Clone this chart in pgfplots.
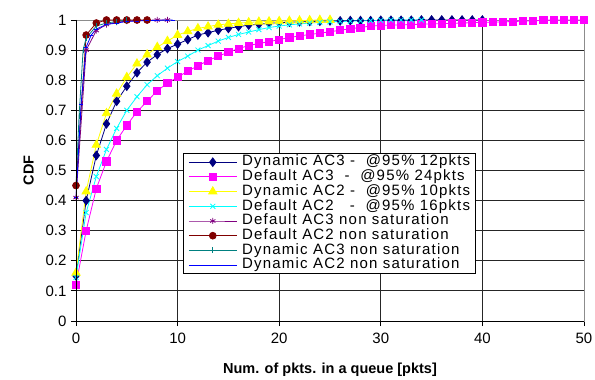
\documentclass[border=0pt]{standalone}
\usepackage{pgfplots}
\pgfplotsset{compat=1.18}
\usepackage{fontspec}
\setmainfont{Liberation Sans}
\newfontfamily\legfont[LetterSpace=8]{Liberation Sans}
\definecolor{cnavy}{RGB}{0,0,128}
\definecolor{cmag}{RGB}{255,0,255}
\definecolor{cyel}{RGB}{255,255,0}
\definecolor{ccyan}{RGB}{0,255,255}
\definecolor{cpurp}{RGB}{128,0,128}
\definecolor{cmaroon}{RGB}{128,0,0}
\definecolor{cteal}{RGB}{0,128,128}
\definecolor{cblue}{RGB}{0,0,255}
\begin{document}
\begin{tikzpicture}
\path[use as bounding box] (-76pt,-59pt) rectangle (519pt,321pt);
\begin{axis}[
  scale only axis, width=508pt, height=301pt,
  xmin=0, xmax=50, ymin=0, ymax=1,
  xtick={0,10,...,50}, ytick={0,0.1,...,1},
  yticklabel style={/pgf/number format/fixed,/pgf/number format/precision=1, xshift=-1pt},
  xticklabel style={yshift=-3pt},
  /pgf/number format/assume math mode=true,
  ticklabel style={font=\fontsize{15}{16}\selectfont},
  xmajorgrids, ymajorgrids,
  major grid style={black!85, line width=0.9pt},
  axis line style={black!45, line width=0.9pt},
  tick align=outside, major tick length=5pt,
  tick style={black, line width=0.9pt},
  xtick pos=bottom, ytick pos=left,
  xlabel={\textbf{Num. of pkts. in a queue [pkts]}},
  ylabel={\textbf{CDF}},
  label style={font=\fontsize{14.5}{16}\selectfont},
  xlabel style={yshift=-13pt},
  ylabel style={yshift=5pt},
  legend style={at={(0.2106,0.558)}, anchor=north west, draw=black, line width=0.8pt,
    fill=white, font=\legfont\fontsize{15}{15}\selectfont, row sep=1.2pt, column sep=5pt,
    inner xsep=5pt, inner ysep=2pt,
    nodes={inner sep=0pt, text height=10.5pt, text depth=3pt},
    cells={anchor=west}},
  legend image code/.code={\draw[mark repeat=2,mark phase=2,#1] plot coordinates {(0pt,0pt) (24pt,0pt) (48pt,0pt)};},
  every axis plot/.append style={line width=0.8pt},
]
% Dynamic AC3 saturation
\addplot[cnavy, mark=diamond*, mark size=4.3pt, mark options={solid}] coordinates {
(0,0.15)(1,0.40)(2,0.55)(3,0.655)(4,0.73)(5,0.78)(6,0.825)(7,0.86)(8,0.885)(9,0.905)
(10,0.92)(11,0.935)(12,0.95)(13,0.958)(14,0.966)(15,0.972)(16,0.978)(17,0.983)(18,0.986)(19,0.989)
(20,0.991)(21,0.993)(22,0.994)(23,0.995)(24,0.996)(25,0.997)(26,0.997)(27,0.998)(28,0.998)(29,0.998)
(30,0.999)(31,0.999)(32,0.999)(33,0.999)(34,1)(35,1)(36,1)(37,1)(38,1)(39,1)(40,1)};
\addlegendentry{Dynamic AC3 -\ \ @95\% 12pkts}
% Default AC3 saturation
\addplot[cmag, mark=square*, mark size=3.6pt] coordinates {
(0,0.12)(1,0.30)(2,0.44)(3,0.53)(4,0.60)(5,0.65)(6,0.695)(7,0.73)(8,0.765)(9,0.79)
(10,0.81)(11,0.83)(12,0.848)(13,0.865)(14,0.88)(15,0.893)(16,0.905)(17,0.915)(18,0.922)(19,0.928)
(20,0.935)(21,0.942)(22,0.947)(23,0.952)(24,0.956)(25,0.961)(26,0.966)(27,0.971)(28,0.975)(29,0.98)
(30,0.982)(31,0.983)(32,0.984)(33,0.985)(34,0.986)(35,0.987)(36,0.988)(37,0.989)(38,0.99)(39,0.991)
(40,0.992)(41,0.993)(42,0.994)(43,0.995)(44,0.996)(45,0.997)(46,0.999)(47,1)(48,1)(49,1)(50,1)};
\addlegendentry{Default AC3\ \ -\ \ @95\% 24pkts}
% Dynamic AC2 saturation
\addplot[cyel, mark=triangle*, mark size=4.8pt] coordinates {
(0,0.16)(1,0.43)(2,0.585)(3,0.69)(4,0.755)(5,0.81)(6,0.855)(7,0.885)(8,0.91)(9,0.93)
(10,0.95)(11,0.962)(12,0.972)(13,0.978)(14,0.984)(15,0.987)(16,0.99)(17,0.992)(18,0.994)(19,0.995)
(20,0.996)(21,0.997)(22,0.998)(23,0.999)(24,1)(25,1)};
\addlegendentry{Dynamic AC2 -\ \ @95\% 10pkts}
% Default AC2 saturation
\addplot[ccyan, mark=x, mark size=3.5pt] coordinates {
(0,0.145)(1,0.36)(2,0.48)(3,0.57)(4,0.64)(5,0.70)(6,0.745)(7,0.785)(8,0.815)(9,0.84)
(10,0.862)(11,0.88)(12,0.9)(13,0.915)(14,0.93)(15,0.942)(16,0.952)(17,0.96)(18,0.968)(19,0.975)
(20,0.98)(21,0.984)(22,0.987)(23,0.99)(24,0.992)(25,0.994)(26,0.995)(27,0.996)(28,0.997)(29,0.998)
(30,0.999)(31,1)(32,1)(33,1)(34,1)};
\addlegendentry{Default AC2\ \ \ -\ \ @95\% 16pkts}
% Default AC3 non saturation
\addplot[cpurp, mark=asterisk, mark size=3pt] coordinates {
(0,0.41)(1,0.90)(2,0.965)(3,0.985)(4,0.993)(5,0.996)(6,0.998)(7,0.999)(8,1)(9,1)};
\addlegendentry{Default AC3 non saturation}
% Default AC2 non saturation
\addplot[cmaroon, mark=*, mark size=3.4pt] coordinates {
(0,0.45)(1,0.95)(2,0.99)(3,1)(4,1)(5,1)(6,1)(7,1)};
\addlegendentry{Default AC2 non saturation}
% Dynamic AC3 non saturation
\addplot[cteal, mark=|, mark size=3pt] coordinates {
(0,0.45)(0.3,0.68)(0.7,0.9)(1,0.94)(2,0.98)(3,0.99)(4,0.995)(5,1)};
\addlegendentry{Dynamic AC3 non saturation}
% Dynamic AC2 non saturation
\addplot[cblue, mark=-, mark size=2pt] coordinates {
(0,0.41)(0.5,0.72)(1,0.91)(1.5,0.95)(2,0.97)(3,0.985)(4,0.99)(5,0.995)(6,0.997)(7,0.998)(8,0.999)(9,1)(9.5,1)};
\addlegendentry{Dynamic AC2 non saturation}
\end{axis}
\draw[black, line width=0.9pt] (0,301pt) -- (0,0) -- (508pt,0);
\end{tikzpicture}
\end{document}
